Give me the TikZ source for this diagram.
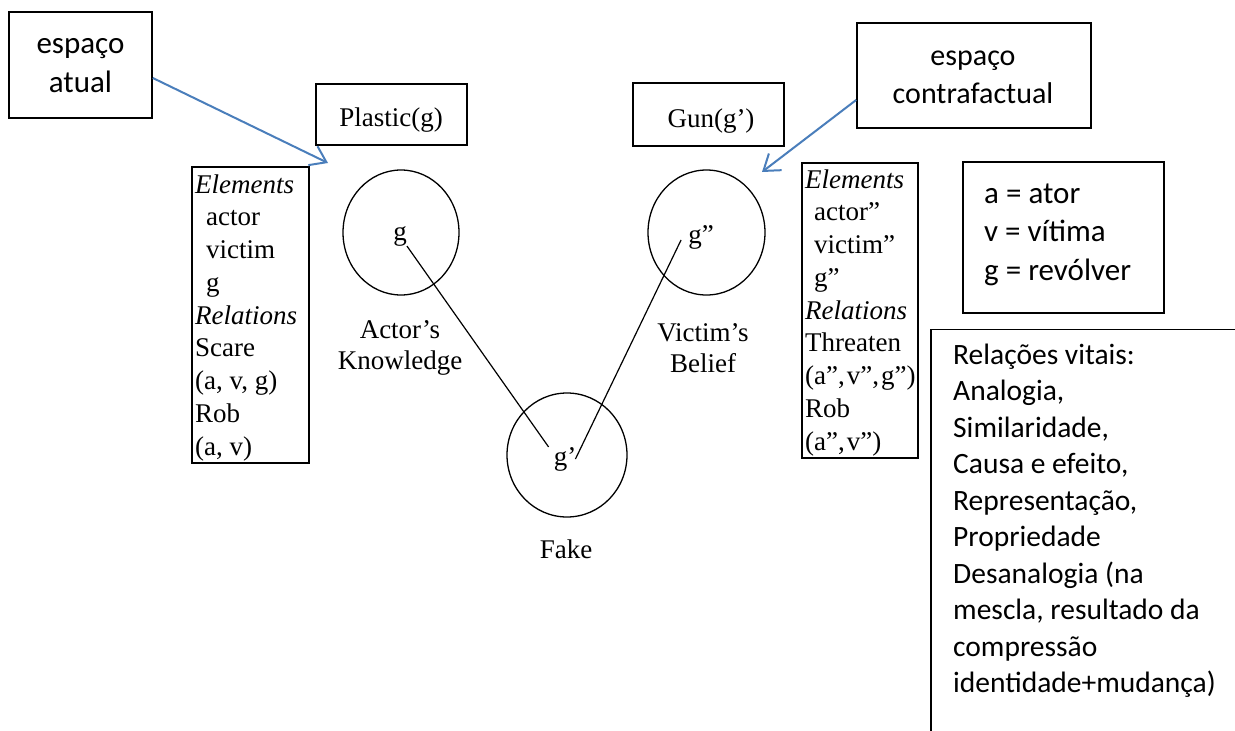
\documentclass[tikz,border=0pt]{standalone}
\usepackage{fontspec}
\setmainfont{Liberation Serif}
\newfontfamily\calibrifont{Carlito}
\usetikzlibrary{arrows.meta,shapes.geometric}
\definecolor{officeblue}{HTML}{4A7EBB}
% stacked lines: left / centred, baseline of the whole block = first line
\newcommand\stackl[1]{\begin{tabular}[t]{@{}l@{}}#1\end{tabular}}
\newcommand\stackc[1]{\begin{tabular}[t]{@{}c@{}}#1\end{tabular}}

\begin{document}
\begin{tikzpicture}[x=1pt,y=-1pt,
  thinframe/.style={draw, line width=1.3pt, inner sep=0pt},
  boldframe/.style={draw, line width=1.7pt, inner sep=0pt},
  ring/.style={draw, ellipse, line width=1.3pt, inner sep=0pt},
  serif/.style={font=\fontsize{27}{32.75}\selectfont, inner sep=0pt},
  caption/.style={font=\fontsize{27}{31}\selectfont, inner sep=0pt},
  sans/.style={font=\calibrifont\fontsize{30}{38.5}\selectfont, inner sep=0pt},
  link/.style={line width=1.2pt},
  pointer/.style={draw=officeblue, line width=2pt,
    -{Straight Barb[length=15pt,width=21pt]}}]

\useasboundingbox (0,0) rectangle (1235,731);
\clip (0,0) rectangle (1235,731);

% ---- input/space labels -------------------------------------------
\node[boldframe, minimum width=143pt, minimum height=106pt] (atual) at (80.5,65) {};
\node[sans, font=\calibrifont\fontsize{31}{39}\selectfont, anchor=base] (atualText) at (80.5,53)
  {\stackc{espaço\\atual}};

\node[boldframe, minimum width=234pt, minimum height=105pt] (contra) at (974,75.5) {};
\node[sans, font=\calibrifont\fontsize{30}{38}\selectfont, anchor=base] (contraText) at (973,65)
  {\stackc{espaço\\contrafactual}};

% ---- property boxes -----------------------------------------------
\node[thinframe, minimum width=151pt, minimum height=61pt] (plastic) at (391.5,114.5) {};
\node[serif, anchor=base] (plasticText) at (391,126) {Plastic(g)};

\node[thinframe, minimum width=151pt, minimum height=63pt] (gun) at (708.5,114.5) {};
\node[serif, anchor=base] (gunText) at (711,127) {Gun(g’)};

% ---- element / relation lists -------------------------------------
\node[thinframe, minimum width=117pt, minimum height=296pt] (leftList) at (250.5,315) {};
\node[serif, anchor=base west] (leftListText) at (195,193) {\stackl{%
  \textit{Elements}\\
  \hspace{11pt}actor\\
  \hspace{11pt}victim\\
  \hspace{11pt}g\\
  \textit{Relations}\\
  Scare\\
  (a, v, g)\\
  Rob\\
  (a, v)}};

\node[thinframe, minimum width=116pt, minimum height=295pt] (rightList) at (860,310.5) {};
\node[serif, anchor=base west] (rightListText) at (805,188) {\stackl{%
  \textit{Elements}\\
  \hspace{9pt}actor”\\
  \hspace{9pt}victim”\\
  \hspace{9pt}g”\\
  \textit{Relations}\\
  Threaten\\
  (a”,\kern2pt v”,\kern2pt g”)\\
  Rob\\
  (a”,\kern2pt v”)}};

% ---- mental spaces ------------------------------------------------
\node[ring, minimum width=116pt, minimum height=125pt] (knowledge) at (401,232.5) {};
\node[ring, minimum width=117pt, minimum height=125pt] (belief) at (706.5,232.5) {};
\node[ring, minimum width=120pt, minimum height=124pt] (fake) at (567,455) {};

\node[serif] (gA) at (400,236) {g};
\node[serif] (gB) at (701,237) {g”};
\node[serif] (gF) at (565,459) {g’};

\node[caption, anchor=base] (knowledgeLabel) at (400,338) {\stackc{Actor’s\\Knowledge}};
\node[caption, anchor=base] (beliefLabel) at (703,341) {\stackc{Victim’s\\Belief}};
\node[caption, anchor=base] (fakeLabel) at (566,558) {Fake};

% counterpart links
\draw[link] (gA.south east) -- ([xshift=-5pt]gF.north west);
\draw[link] ([xshift=-1pt]gF.east) -- ([xshift=-7pt,yshift=-3pt]gB.west);

% ---- pointers to the spaces ---------------------------------------
\coordinate (tipA) at (328,163);
\coordinate (tipB) at (762,172);
\draw[pointer] ([yshift=-13pt]atual.east) -- (tipA);
\draw[pointer] ([yshift=-24.5pt]contra.west) -- (tipB);

% ---- legend -------------------------------------------------------
\node[boldframe, minimum width=201pt, minimum height=151pt] (legend) at (1063.5,237.5) {};
\node[sans, font=\calibrifont\fontsize{31}{38.5}\selectfont, anchor=base west] (legendText) at (984,203)
  {\stackl{a = ator\\v = vítima\\g = revólver}};

% ---- vital relations (box runs off the page) ----------------------
\draw[line width=1.7pt] (931,745) |- (1245,329.5);
\node[sans, font=\calibrifont\fontsize{29.5}{36.5}\selectfont, anchor=base west] (vital) at (953,364)
  {\stackl{Relações vitais:\\
  Analogia,\\
  Similaridade,\\
  Causa e efeito,\\
  Representação,\\
  Propriedade\\
  Desanalogia (na\\
  mescla, resultado da\\
  compressão\\
  identidade+mudança)}};
\end{tikzpicture}
\end{document}
